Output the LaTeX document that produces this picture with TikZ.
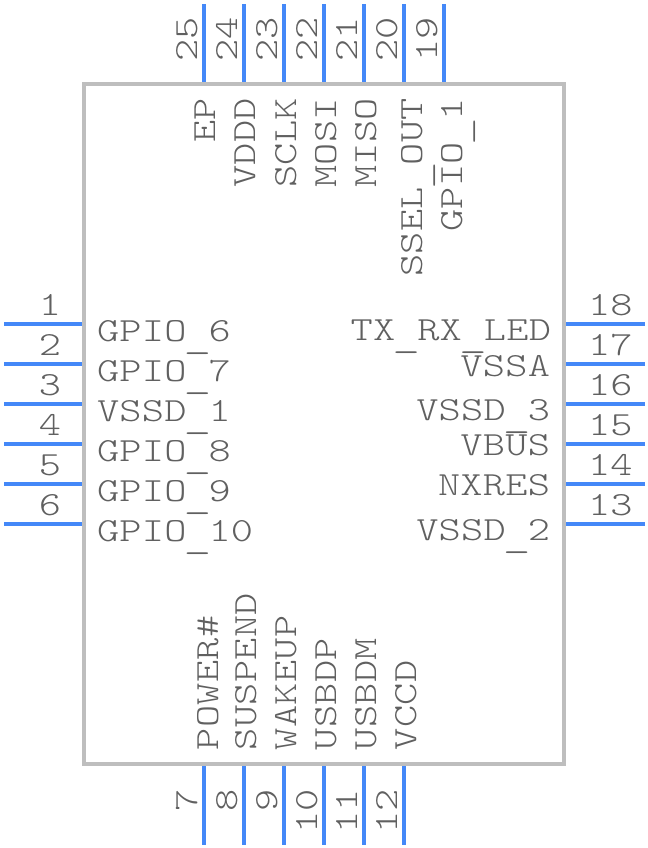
\documentclass[tikz,border=0pt]{standalone}
\usepackage{fontspec}
\usepackage{graphicx}
\setmonofont[FakeStretch=1.25,LetterSpace=0.8]{Latin Modern Mono Light}
\definecolor{pinblue}{HTML}{4488F8}
\definecolor{bodygrey}{HTML}{BEBEBE}
\definecolor{txtgrey}{HTML}{606060}
\newcommand{\us}{\makebox[22bp]{\raisebox{-7.5bp}{\scalebox{1.25}[1]{\_}}}}
\tikzset{
 pin/.style={draw=pinblue,line width=4bp},
 body/.style={draw=bodygrey,line width=4bp},
 lbl/.style={inner sep=0pt,outer sep=0pt,text=txtgrey,font=\fontsize{33.8bp}{34bp}\selectfont\ttfamily},
 lw/.style={lbl,anchor=base west},
 le/.style={lbl,anchor=base east},
 vw/.style={lbl,rotate=90,anchor=base west},
 ve/.style={lbl,rotate=90,anchor=base east},
 num/.style={lbl,anchor=base}
}
\begin{document}
\begin{tikzpicture}[x=1bp,y=-1bp]
\useasboundingbox (0,0) rectangle (648,848);
\coordinate (tl) at (84,84); \coordinate (tr) at (564,84);
\coordinate (br) at (564,764); \coordinate (bl) at (84,764);
\draw[body] (tl) -- (tr) -- (br) -- (bl) -- cycle;
% left pins
\foreach \n/\y in {1/324,2/364,3/404,4/444,5/484,6/524}{
 \coordinate (p\n a) at (4,\y); \coordinate (p\n b) at (82,\y);
 \draw[pin] (p\n a) -- (p\n b);
 \node[num] (n\n) at (50,\y-9) {\n};
}
% right pins
\foreach \n/\y in {18/324,17/364,16/404,15/444,14/484,13/524}{
 \coordinate (p\n a) at (566,\y); \coordinate (p\n b) at (645,\y);
 \draw[pin] (p\n a) -- (p\n b);
 \node[lw] (n\n) at (588,\y-9) {\n};
}
% top pins
\foreach \n/\x in {25/204,24/244,23/284,22/324,21/364,20/404,19/444}{
 \coordinate (p\n a) at (\x,4); \coordinate (p\n b) at (\x,82);
 \draw[pin] (p\n a) -- (p\n b);
 \node[ve] (n\n) at (\x-7,17) {\n};
}
% bottom pins
\foreach \n/\x in {7/204,8/244,9/284,10/324,11/364,12/404}{
 \coordinate (p\n a) at (\x,766); \coordinate (p\n b) at (\x,845);
 \draw[pin] (p\n a) -- (p\n b);
 \node[ve] (n\n) at (\x-7,789) {\n};
}
% left labels
\node[lw] (l1) at (97,341) {GPIO\us 6};
\node[lw] (l2) at (97,381) {GPIO\us 7};
\node[lw] (l3) at (97,421) {VSSD\us 1};
\node[lw] (l4) at (97,461) {GPIO\us 8};
\node[lw] (l5) at (97,501) {GPIO\us 9};
\node[lw] (l6) at (97,541) {GPIO\us 10};
% right labels
\node[le] (l18) at (551,340) {TX\us RX\us LED};
\node[le] (l17) at (550,376) {VSSA};
\node[le] (l16) at (550,420) {VSSD\us 3};
\node[le] (l15) at (550,455) {VBUS};
\node[le] (l14) at (550,495) {NXRES};
\node[le] (l13) at (550,540) {VSSD\us 2};
% top labels
\node[ve] (l25) at (215,98) {EP};
\node[ve] (l24) at (255,98) {VDDD};
\node[ve] (l23) at (296,98) {SCLK};
\node[ve] (l22) at (336,98) {MOSI};
\node[ve] (l21) at (376,98) {MISO};
\node[ve] (l20) at (422,98) {SSEL\us OUT};
\node[ve] (l19) at (462,98) {GPIO\us 1};
% bottom labels
\node[vw] (l7) at (218,750) {POWER\#};
\node[vw] (l8) at (256,750) {SUSPEND};
\node[vw] (l9) at (296,750) {WAKEUP};
\node[vw] (l10) at (336,750) {USBDP};
\node[vw] (l11) at (376,750) {USBDM};
\node[vw] (l12) at (416,750) {VCCD};
\end{tikzpicture}
\end{document}
